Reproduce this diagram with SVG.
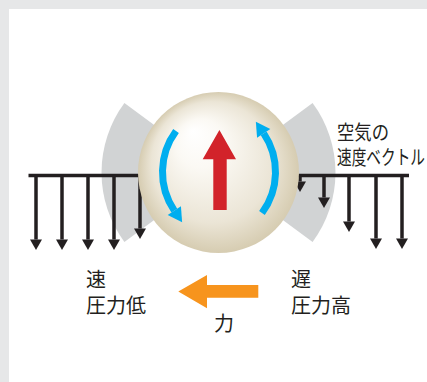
<svg xmlns="http://www.w3.org/2000/svg" width="427" height="382" viewBox="0 0 427 382">
  <defs>
    <radialGradient id="ballShade" cx="0.5" cy="0.5" r="0.5" fx="0.34" fy="0.24">
      <stop offset="0" stop-color="#ffffff"/>
      <stop offset="0.3" stop-color="#fbf9f4"/>
      <stop offset="0.75" stop-color="#ebe5d6"/>
      <stop offset="1" stop-color="#d6ccb1"/>
    </radialGradient>
    <marker id="blackHead" markerUnits="userSpaceOnUse" markerWidth="20" markerHeight="20" refX="0" refY="0" orient="auto" overflow="visible">
      <path d="M0,-6 L10.5,0 L0,6 Z" fill="#231f20"/>
    </marker>
    <marker id="blueHead" markerUnits="userSpaceOnUse" markerWidth="20" markerHeight="20" refX="0" refY="0" orient="auto" overflow="visible">
      <path d="M0,-8 L14,0 L0,8 Z" fill="#00aeef"/>
    </marker>
  </defs>
  <style>
    .vec { stroke: #231f20; stroke-width: 3.5; fill: none; }
    .vec-a { stroke: #231f20; stroke-width: 3.5; fill: none; marker-end: url(#blackHead); }
    .wedge { fill: #d1d3d4; }
    .spin { stroke: #00aeef; stroke-width: 7; fill: none; marker-end: url(#blueHead); }
    .lbl { font-family: "Noto Sans CJK JP", "Noto Sans", sans-serif; font-size: 20px; fill: #231f20; }
  </style>

  <!-- page -->
  <rect x="0" y="0" width="427" height="382" fill="#e6e7e8"/>
  <rect x="9" y="9" width="418" height="373" fill="#ffffff"/>

  <!-- pressure wake sectors -->
  <g id="wake">
    <path class="wedge" d="M218.5,172.5 L124.4,103 A117,117 0 0 0 124.4,242 Z"/>
    <path class="wedge" d="M218.5,172.5 L312.6,103 A117,117 0 0 1 312.6,242 Z"/>
  </g>

  <!-- air velocity vectors -->
  <g id="connectors">
    <line class="vec" x1="28.5" y1="175.5" x2="409" y2="175.5"/>
    <line class="vec-a" x1="36" y1="175.5" x2="36" y2="239.5"/>
    <line class="vec-a" x1="62" y1="175.5" x2="62" y2="239.5"/>
    <line class="vec-a" x1="88" y1="175.5" x2="88" y2="239.5"/>
    <line class="vec-a" x1="114" y1="175.5" x2="114" y2="239.5"/>
    <line class="vec-a" x1="140" y1="175.5" x2="140" y2="228.5"/>
    <line class="vec-a" x1="300" y1="175.5" x2="300" y2="181.5"/>
    <line class="vec-a" x1="324" y1="175.5" x2="324" y2="197.5"/>
    <line class="vec-a" x1="349" y1="175.5" x2="349" y2="221.5"/>
    <line class="vec-a" x1="376" y1="175.5" x2="376" y2="238.5"/>
    <line class="vec-a" x1="402" y1="175.5" x2="402" y2="238.5"/>
  </g>

  <!-- spinning ball -->
  <g id="ball">
    <circle cx="218.5" cy="172.5" r="80.5" fill="url(#ballShade)"/>
    <path class="spin" d="M176.03,130.96 A69,69 0 0 0 174.3,210.6"/>
    <path class="spin" d="M176.03,130.96 A69,69 0 0 0 174.3,210.6" transform="rotate(180 219 172)"/>
    <path d="M219.4,130 L236,159.3 L226.7,159.3 L226.7,210 L213.3,210 L213.3,159.3 L202.7,159.3 Z" fill="#d2232a"/>
  </g>

  <!-- resulting force -->
  <g id="force">
    <path d="M178.3,291.5 L207,275 L207,285 L258.3,285 L258.3,297.7 L207,297.7 L207,308.3 Z" fill="#f7941d"/>
    <text class="lbl" x="214" y="331">力</text>
  </g>

  <g id="label-vector">
    <text class="lbl">
      <tspan x="337" y="140" textLength="52" lengthAdjust="spacingAndGlyphs">空気の</tspan>
      <tspan x="337" y="164.5" textLength="88" lengthAdjust="spacingAndGlyphs">速度ベクトル</tspan>
    </text>
  </g>

  <g id="label-fast">
    <text class="lbl"><tspan x="86" y="287">速</tspan><tspan x="86" y="313">圧力低</tspan></text>
  </g>

  <g id="label-slow">
    <text class="lbl"><tspan x="291" y="287">遅</tspan><tspan x="291" y="313">圧力高</tspan></text>
  </g>
</svg>
